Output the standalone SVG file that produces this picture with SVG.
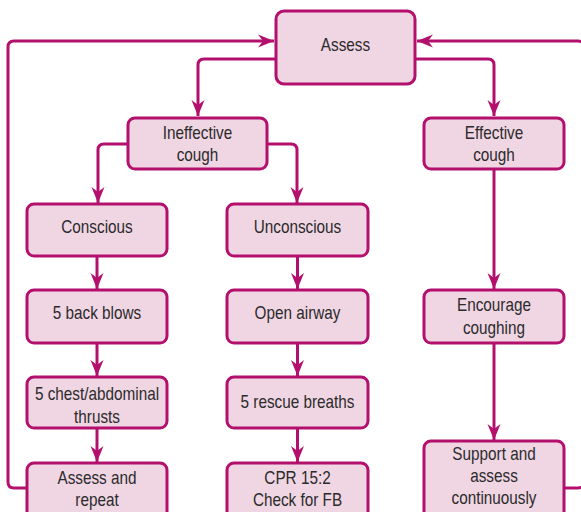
<svg xmlns="http://www.w3.org/2000/svg" width="581" height="512" viewBox="0 0 581 512">
  <style>
    .box { fill: #f0d5e3; stroke: #b3106e; stroke-width: 3; }
    .wire { fill: none; stroke: #b3106e; stroke-width: 3; stroke-linejoin: round; }
    .lbl { font-family: "Liberation Sans", Arial, sans-serif; font-size: 18px; fill: #2b2b2b; text-anchor: middle; }
  </style>
  <defs>
    <marker id="arrow" markerUnits="userSpaceOnUse" markerWidth="18" markerHeight="14" viewBox="-17 -7 18 14" refX="0" refY="0" orient="auto">
      <path d="M0,0 L-16,-6.5 L-11,0 L-16,6.5 Z" fill="#b3106e"/>
    </marker>
  </defs>
  <rect width="581" height="512" fill="#ffffff"/>

  <g id="connectors">
    <!-- Assess splits into the two cough branches -->
    <path class="wire" d="M275,59 H204 Q198,59 198,65 V116" marker-end="url(#arrow)"/>
    <path class="wire" d="M415,59 H488 Q494,59 494,65 V116" marker-end="url(#arrow)"/>
    <!-- Ineffective cough splits -->
    <path class="wire" d="M128,144 H104 Q98,144 98,150 V203" marker-end="url(#arrow)"/>
    <path class="wire" d="M267,144 H291 Q297,144 297,150 V203" marker-end="url(#arrow)"/>
    <!-- Conscious column -->
    <path class="wire" d="M97,256 V289" marker-end="url(#arrow)"/>
    <path class="wire" d="M97,343 V376" marker-end="url(#arrow)"/>
    <path class="wire" d="M97,428 V462" marker-end="url(#arrow)"/>
    <!-- Unconscious column -->
    <path class="wire" d="M297.5,256 V289" marker-end="url(#arrow)"/>
    <path class="wire" d="M297.5,343 V376" marker-end="url(#arrow)"/>
    <path class="wire" d="M297.5,428 V462" marker-end="url(#arrow)"/>
    <!-- Effective cough column -->
    <path class="wire" d="M494,169 V289" marker-end="url(#arrow)"/>
    <path class="wire" d="M494,343 V440" marker-end="url(#arrow)"/>
    <!-- Loops back to Assess -->
    <path class="wire" d="M27,488 H14 Q8,488 8,482 V47 Q8,41 14,41 H274" marker-end="url(#arrow)"/>
    <path class="wire" d="M564,488 H578 Q584,488 584,482 V47 Q584,41 578,41 H417" marker-end="url(#arrow)"/>
  </g>

  <g id="assess">
    <rect class="box" x="276" y="11" width="139" height="73" rx="8"/>
    <text class="lbl" transform="translate(345.5,51) scale(0.85,1)">Assess</text>
  </g>
  <g id="ineffective-cough">
    <rect class="box" x="128" y="118" width="139" height="51" rx="7"/>
    <text class="lbl" transform="translate(197.5,139) scale(0.85,1)">Ineffective</text>
    <text class="lbl" transform="translate(197.5,161) scale(0.85,1)">cough</text>
  </g>
  <g id="effective-cough">
    <rect class="box" x="424" y="118" width="140" height="51" rx="7"/>
    <text class="lbl" transform="translate(494,139) scale(0.85,1)">Effective</text>
    <text class="lbl" transform="translate(494,161) scale(0.85,1)">cough</text>
  </g>
  <g id="conscious">
    <rect class="box" x="27" y="204" width="140" height="52" rx="7"/>
    <text class="lbl" transform="translate(97,233) scale(0.85,1)">Conscious</text>
  </g>
  <g id="back-blows">
    <rect class="box" x="27" y="290" width="140" height="53" rx="7"/>
    <text class="lbl" transform="translate(97,319) scale(0.85,1)">5 back blows</text>
  </g>
  <g id="chest-thrusts">
    <rect class="box" x="27" y="377" width="140" height="51" rx="7"/>
    <text class="lbl" transform="translate(97,400) scale(0.85,1)">5 chest/abdominal</text>
    <text class="lbl" transform="translate(97,423) scale(0.85,1)">thrusts</text>
  </g>
  <g id="assess-repeat">
    <rect class="box" x="27" y="463" width="140" height="60" rx="7"/>
    <text class="lbl" transform="translate(97,484) scale(0.85,1)">Assess and</text>
    <text class="lbl" transform="translate(97,506) scale(0.85,1)">repeat</text>
  </g>
  <g id="unconscious">
    <rect class="box" x="227" y="204" width="141" height="52" rx="7"/>
    <text class="lbl" transform="translate(297.5,233) scale(0.85,1)">Unconscious</text>
  </g>
  <g id="open-airway">
    <rect class="box" x="227" y="290" width="141" height="53" rx="7"/>
    <text class="lbl" transform="translate(297.5,319) scale(0.85,1)">Open airway</text>
  </g>
  <g id="rescue-breaths">
    <rect class="box" x="227" y="377" width="141" height="51" rx="7"/>
    <text class="lbl" transform="translate(297.5,408) scale(0.85,1)">5 rescue breaths</text>
  </g>
  <g id="cpr">
    <rect class="box" x="227" y="463" width="141" height="60" rx="7"/>
    <text class="lbl" transform="translate(297.5,484) scale(0.85,1)">CPR 15:2</text>
    <text class="lbl" transform="translate(297.5,506) scale(0.85,1)">Check for FB</text>
  </g>
  <g id="encourage-coughing">
    <rect class="box" x="424" y="290" width="140" height="53" rx="7"/>
    <text class="lbl" transform="translate(494,311) scale(0.85,1)">Encourage</text>
    <text class="lbl" transform="translate(494,334) scale(0.85,1)">coughing</text>
  </g>
  <g id="support-assess">
    <rect class="box" x="424" y="441" width="140" height="80" rx="7"/>
    <text class="lbl" transform="translate(494,460) scale(0.85,1)">Support and</text>
    <text class="lbl" transform="translate(494,482) scale(0.85,1)">assess</text>
    <text class="lbl" transform="translate(494,504) scale(0.85,1)">continuously</text>
  </g>
</svg>
